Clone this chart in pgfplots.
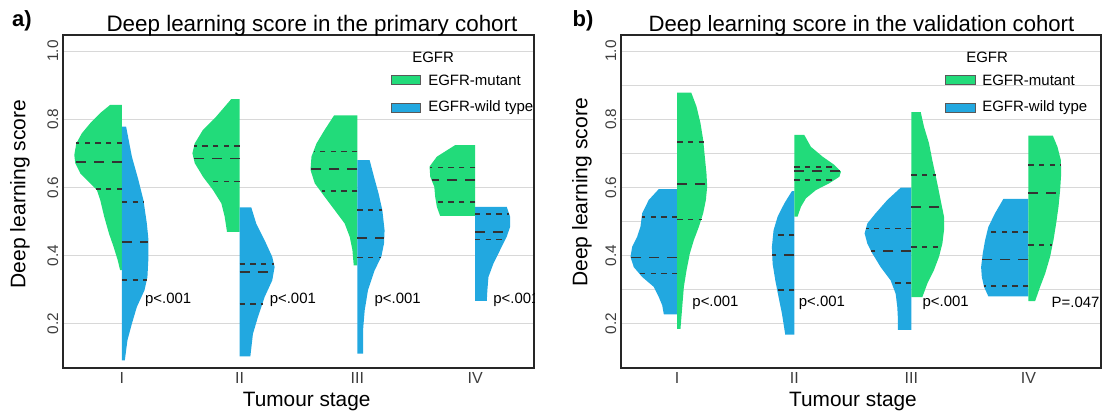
\documentclass[border=0pt]{standalone}
\usepackage{fontspec}
\setmainfont{Liberation Sans}
\usepackage{pgfplots}
\pgfplotsset{compat=1.18}
\usepackage{pgfplotstable}

\definecolor{vgreen}{HTML}{22DB7A}
\definecolor{vblue}{HTML}{22A8E0}
\definecolor{qcol}{HTML}{333333}
\definecolor{gridc}{HTML}{D8D8D8}
\definecolor{ticklab}{HTML}{3C3C3C}

% half-violin outlines: w = half width (x units), y = score
% panel a (primary cohort): mutant left, wild type right
\pgfplotstableread{
w y
0 0.842
0.099 0.842
0.184 0.818
0.269 0.788
0.339 0.759
0.387 0.729
0.404 0.695
0.396 0.671
0.353 0.641
0.283 0.617
0.212 0.592
0.184 0.563
0.150 0.514
0.110 0.465
0.070 0.425
0.035 0.386
0.015 0.357
0 0.357
}\aIg
\pgfplotstableread{
w y
0 0.778
0.036 0.778
0.085 0.690
0.141 0.621
0.183 0.563
0.212 0.494
0.226 0.445
0.226 0.396
0.217 0.337
0.192 0.298
0.127 0.249
0.085 0.200
0.047 0.151
0.025 0.092
0 0.092
}\aIb
\pgfplotstableread{
w y
0 0.859
0.071 0.859
0.198 0.808
0.311 0.769
0.381 0.729
0.401 0.700
0.381 0.671
0.311 0.631
0.226 0.592
0.155 0.553
0.127 0.514
0.107 0.469
0 0.469
}\aIIg
\pgfplotstableread{
w y
0 0.541
0.099 0.541
0.141 0.494
0.212 0.445
0.277 0.396
0.297 0.366
0.277 0.327
0.212 0.278
0.155 0.219
0.113 0.170
0.091 0.104
0 0.104
}\aIIb
\pgfplotstableread{
w y
0 0.811
0.198 0.811
0.277 0.769
0.347 0.729
0.390 0.690
0.398 0.651
0.362 0.612
0.277 0.572
0.192 0.533
0.108 0.494
0.065 0.455
0.042 0.416
0.031 0.371
0 0.371
}\aIIIg
\pgfplotstableread{
w y
0 0.680
0.104 0.680
0.141 0.631
0.180 0.582
0.212 0.533
0.231 0.474
0.226 0.435
0.203 0.396
0.147 0.357
0.090 0.298
0.062 0.239
0.048 0.180
0.048 0.112
0 0.112
}\aIIIb
\pgfplotstableread{
w y
0 0.724
0.169 0.724
0.325 0.690
0.387 0.661
0.381 0.631
0.347 0.602
0.339 0.572
0.325 0.543
0.297 0.516
0 0.516
}\aIVg
\pgfplotstableread{
w y
0 0.543
0.268 0.543
0.297 0.514
0.297 0.484
0.268 0.455
0.212 0.416
0.155 0.376
0.113 0.337
0.104 0.298
0.099 0.267
0 0.267
}\aIVb

% panel b (validation cohort): wild type left, mutant right
\pgfplotstableread{
w y
0 0.595
0.157 0.595
0.243 0.563
0.299 0.524
0.314 0.484
0.342 0.455
0.385 0.425
0.399 0.396
0.371 0.366
0.299 0.337
0.200 0.308
0.157 0.278
0.128 0.254
0.114 0.227
0 0.227
}\bIb
\pgfplotstableread{
w y
0 0.878
0.120 0.878
0.165 0.837
0.199 0.788
0.222 0.739
0.236 0.690
0.250 0.641
0.256 0.602
0.245 0.563
0.222 0.524
0.185 0.484
0.142 0.445
0.108 0.406
0.080 0.357
0.057 0.308
0.043 0.249
0.028 0.185
0 0.185
}\bIg
\pgfplotstableread{
w y
0 0.589
0.020 0.589
0.085 0.553
0.142 0.514
0.177 0.474
0.191 0.425
0.185 0.376
0.162 0.327
0.134 0.278
0.105 0.229
0.077 0.168
0 0.168
}\bIIb
\pgfplotstableread{
w y
0 0.754
0.085 0.754
0.142 0.719
0.242 0.690
0.342 0.666
0.399 0.646
0.385 0.631
0.299 0.612
0.185 0.592
0.100 0.568
0.057 0.543
0.028 0.514
0 0.514
}\bIIg
\pgfplotstableread{
w y
0 0.599
0.091 0.599
0.205 0.563
0.305 0.524
0.376 0.494
0.399 0.465
0.376 0.435
0.333 0.406
0.262 0.366
0.177 0.327
0.134 0.288
0.120 0.249
0.114 0.210
0.114 0.182
0 0.182
}\bIIIb
\pgfplotstableread{
w y
0 0.821
0.080 0.821
0.108 0.778
0.151 0.729
0.179 0.680
0.216 0.621
0.250 0.563
0.279 0.514
0.279 0.474
0.265 0.435
0.236 0.396
0.193 0.357
0.137 0.318
0.094 0.278
0 0.278
}\bIIIg
\pgfplotstableread{
w y
0 0.566
0.214 0.566
0.285 0.524
0.342 0.484
0.370 0.445
0.390 0.406
0.404 0.366
0.398 0.337
0.379 0.308
0.342 0.280
0 0.280
}\bIVb
\pgfplotstableread{
w y
0 0.752
0.208 0.752
0.248 0.719
0.277 0.680
0.280 0.641
0.271 0.592
0.257 0.543
0.237 0.494
0.214 0.445
0.185 0.396
0.143 0.347
0.100 0.308
0.057 0.266
0 0.266
}\bIVg

% #1 centre, #2 side (+/-), #3 colour, #4 table
\newcommand\hv[4]{\addplot[fill=#3, draw=none, forget plot] table[x expr=#1#2\thisrow{w}, y=y] {#4};}
% quantile line: #1 centre, #2 side, #3 y, #4 half width, #5 style
\newcommand\qq[5]{\addplot[#5] table[row sep=\\, x expr=#1#2\thisrow{w}, y=y] {w y\\ 0 #3\\ #4 #3\\};}

\pgfplotsset{
  violinax/.style={
    scale only axis, anchor=south west,
    height=249.75pt,
    ymin=0.07, ymax=1.047,
    xtick={1,2,3,4}, xticklabels={I,II,III,IV},
    ytick={0.2,0.4,0.6,0.8,1.0}, yticklabels={0.2,0.4,0.6,0.8,1.0},
    major tick length=0pt, minor tick length=0pt,
    ymajorgrids, grid style={gridc, line width=0.75pt},
    axis line style={black!85, line width=1.1pt},
    yticklabel style={rotate=90, anchor=south, text=ticklab, font=\fontsize{11.5}{13}\selectfont},
    xticklabel style={text=ticklab, font=\fontsize{12}{14}\selectfont},
    /pgf/number format/assume math mode=true,
  },
  qs/.style={draw=qcol, line width=1.3pt, dash pattern=on 4pt off 4pt, mark=none, forget plot},
  qm/.style={draw=qcol, line width=1.3pt, dash pattern=on 7.5pt off 6pt, mark=none, forget plot},
}
\tikzset{plab/.style={anchor=west, inner sep=0pt, font=\fontsize{11.2}{13}\selectfont}}

\begin{document}
\begin{tikzpicture}
\path[use as bounding box] (0,0) rectangle (828pt,312.75pt);

% ---------- panel a ----------
\begin{axis}[violinax, at={(47.25pt,36.75pt)}, width=353.25pt, xmin=0.5, xmax=4.5]
\hv{1}{-}{vgreen}{\aIg}   \hv{1}{+}{vblue}{\aIb}
\hv{2}{-}{vgreen}{\aIIg}  \hv{2}{+}{vblue}{\aIIb}
\hv{3}{-}{vgreen}{\aIIIg} \hv{3}{+}{vblue}{\aIIIb}
\hv{4}{-}{vgreen}{\aIVg}  \hv{4}{+}{vblue}{\aIVb}
\qq{1}{-}{0.731}{0.39}{qs} \qq{1}{-}{0.675}{0.40}{qm} \qq{1}{-}{0.595}{0.22}{qs}
\qq{1}{+}{0.558}{0.185}{qs} \qq{1}{+}{0.440}{0.226}{qm} \qq{1}{+}{0.329}{0.212}{qs}
\qq{2}{-}{0.722}{0.385}{qs} \qq{2}{-}{0.685}{0.395}{qm} \qq{2}{-}{0.617}{0.27}{qs}
\qq{2}{+}{0.376}{0.29}{qs} \qq{2}{+}{0.352}{0.297}{qm} \qq{2}{+}{0.257}{0.198}{qs}
\qq{3}{-}{0.705}{0.37}{qs} \qq{3}{-}{0.654}{0.398}{qm} \qq{3}{-}{0.589}{0.30}{qs}
\qq{3}{+}{0.533}{0.212}{qs} \qq{3}{+}{0.452}{0.228}{qm} \qq{3}{+}{0.394}{0.203}{qs}
\qq{4}{-}{0.658}{0.385}{qs} \qq{4}{-}{0.621}{0.37}{qm} \qq{4}{-}{0.556}{0.33}{qs}
\qq{4}{+}{0.522}{0.29}{qs} \qq{4}{+}{0.469}{0.29}{qm} \qq{4}{+}{0.447}{0.26}{qs}
\node[plab] at (axis cs:1.195,0.27) {p<.001};
\node[plab] at (axis cs:2.254,0.27) {p<.001};
\node[plab] at (axis cs:3.144,0.27) {p<.001};
\node[plab] at (axis cs:4.153,0.27) {p<.001};
\end{axis}

% ---------- panel b ----------
\begin{axis}[violinax, at={(465.75pt,36.75pt)}, width=360pt, xmin=0.52, xmax=4.62,
  minor ytick={0.3,0.5,0.7,0.9}, yminorgrids, minor grid style={gridc, line width=0.75pt}]
\hv{1}{-}{vblue}{\bIb}   \hv{1}{+}{vgreen}{\bIg}
\hv{2}{-}{vblue}{\bIIb}  \hv{2}{+}{vgreen}{\bIIg}
\hv{3}{-}{vblue}{\bIIIb} \hv{3}{+}{vgreen}{\bIIIg}
\hv{4}{-}{vblue}{\bIVb}  \hv{4}{+}{vgreen}{\bIVg}
\qq{1}{-}{0.512}{0.30}{qs} \qq{1}{-}{0.394}{0.40}{qm} \qq{1}{-}{0.347}{0.34}{qs}
\qq{1}{+}{0.732}{0.225}{qs} \qq{1}{+}{0.609}{0.255}{qm} \qq{1}{+}{0.506}{0.21}{qs}
\qq{2}{-}{0.460}{0.17}{qs} \qq{2}{-}{0.401}{0.19}{qm} \qq{2}{-}{0.298}{0.145}{qs}
\qq{2}{+}{0.659}{0.36}{qs} \qq{2}{+}{0.647}{0.395}{qm} \qq{2}{+}{0.622}{0.34}{qs}
\qq{3}{-}{0.479}{0.39}{qs} \qq{3}{-}{0.414}{0.345}{qm} \qq{3}{-}{0.320}{0.17}{qs}
\qq{3}{+}{0.636}{0.21}{qs} \qq{3}{+}{0.543}{0.26}{qm} \qq{3}{+}{0.424}{0.26}{qs}
\qq{4}{-}{0.468}{0.35}{qs} \qq{4}{-}{0.388}{0.395}{qm} \qq{4}{-}{0.310}{0.38}{qs}
\qq{4}{+}{0.666}{0.278}{qs} \qq{4}{+}{0.584}{0.27}{qm} \qq{4}{+}{0.430}{0.205}{qs}
\node[plab] at (axis cs:1.128,0.262) {p<.001};
\node[plab] at (axis cs:2.037,0.262) {p<.001};
\node[plab] at (axis cs:3.094,0.262) {p<.001};
\node[plab] at (axis cs:4.197,0.262) {P=.047};
\end{axis}

% ---------- titles and labels ----------
\node[font=\fontsize{16.5}{19}\selectfont\bfseries] at (16.5pt,297pt) {a)};
\node[font=\fontsize{16.5}{19}\selectfont\bfseries] at (437.25pt,297pt) {b)};
\node[anchor=base, font=\fontsize{16.8}{19}\selectfont] at (234pt,288.75pt) {Deep learning score in the primary cohort};
\node[anchor=base, font=\fontsize{16.6}{19}\selectfont] at (646.1pt,288.75pt) {Deep learning score in the validation cohort};
\node[rotate=90, font=\fontsize{15.8}{18}\selectfont] at (15pt,167.25pt) {Deep learning score};
\node[rotate=90, font=\fontsize{15.8}{18}\selectfont] at (436.5pt,168.4pt) {Deep learning score};
\node[anchor=base, font=\fontsize{15.6}{18}\selectfont] at (230pt,7.7pt) {Tumour stage};
\node[anchor=base, font=\fontsize{15.6}{18}\selectfont] at (639.75pt,7.7pt) {Tumour stage};

% ---------- legends ----------
\begin{scope}[font=\fontsize{11.25}{13}\selectfont]
\node[anchor=west, inner sep=0pt] at (309pt,270pt) {EGFR};
\filldraw[fill=vgreen, draw=gray!70!black, line width=0.5pt] (293.25pt,249.4pt) rectangle (315pt,256.1pt);
\filldraw[fill=vblue, draw=gray!70!black, line width=0.5pt] (293.25pt,228.4pt) rectangle (315pt,235.1pt);
\node[anchor=west, inner sep=0pt] at (321pt,252.75pt) {EGFR-mutant};
\node[anchor=west, inner sep=0pt] at (321pt,231.75pt) {EGFR-wild type};

\node[anchor=west, inner sep=0pt] at (724.5pt,270pt) {EGFR};
\filldraw[fill=vgreen, draw=gray!70!black, line width=0.5pt] (708.75pt,249.4pt) rectangle (731.25pt,256.1pt);
\filldraw[fill=vblue, draw=gray!70!black, line width=0.5pt] (708.75pt,228.4pt) rectangle (731.25pt,235.1pt);
\node[anchor=west, inner sep=0pt] at (736.5pt,252.75pt) {EGFR-mutant};
\node[anchor=west, inner sep=0pt] at (736.5pt,231.75pt) {EGFR-wild type};
\end{scope}
\end{tikzpicture}
\end{document}
